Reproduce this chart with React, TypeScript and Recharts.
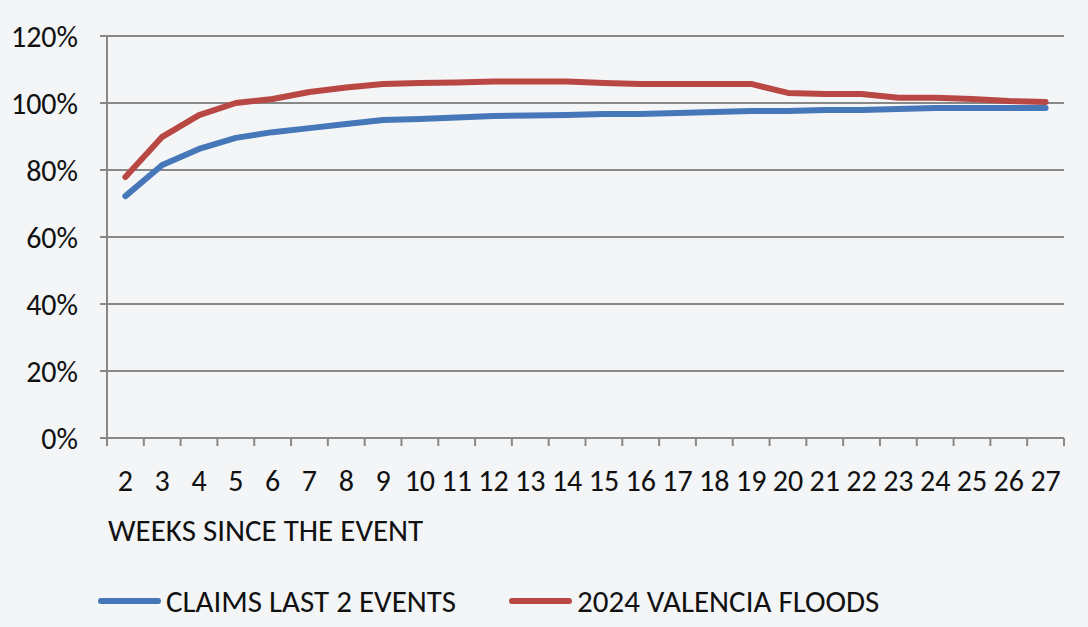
import React from 'react';
import { LineChart, Line, XAxis, YAxis, CartesianGrid } from 'recharts';

const weeks = ['2', '3', '4', '5', '6', '7', '8', '9', '10', '11', '12', '13', '14', '15', '16', '17', '18', '19', '20', '21', '22', '23', '24', '25', '26', '27'];

const claimsLast2 = [0.722, 0.815, 0.863, 0.896, 0.913, 0.925, 0.937, 0.949, 0.952, 0.957, 0.961, 0.963, 0.964, 0.967, 0.967, 0.970, 0.973, 0.976, 0.976, 0.979, 0.979, 0.982, 0.985, 0.985, 0.985, 0.985];

const valenciaFloods = [0.779, 0.899, 0.964, 1.0, 1.012, 1.033, 1.046, 1.057, 1.06, 1.061, 1.064, 1.064, 1.064, 1.06, 1.057, 1.057, 1.057, 1.057, 1.03, 1.027, 1.027, 1.016, 1.016, 1.012, 1.006, 1.003];

const yTicks = [0, 0.2, 0.4, 0.6, 0.8, 1.0, 1.2];

const data = weeks.map((w, i) => ({ week: w, claims: claimsLast2[i], valencia: valenciaFloods[i] }));

const FONT = "Carlito, 'Liberation Sans Narrow', sans-serif";
const BLUE = '#4677b8';
const RED = '#b94744';
const GRID = '#888888';

const W = 1088;
const H = 627;
const M = { top: 36, right: 24, left: 7, bottom: 129 };
const Y_W = 100;
const STEP = (W - M.left - Y_W - M.right) / weeks.length;

function WeekTick(props: any) {
  const { x, y, payload, index } = props;
  const left = x - STEP / 2;
  return (
    <g>
      <line x1={left} y1={y} x2={left} y2={y + 8} stroke={GRID} strokeWidth={2} />
      {index === weeks.length - 1 && (
        <line x1={x + STEP / 2} y1={y} x2={x + STEP / 2} y2={y + 8} stroke={GRID} strokeWidth={2} />
      )}
      <text x={x} y={y + 42} textAnchor="middle" dominantBaseline="central" fill="#111" fontSize={30} fontFamily={FONT}>
        {payload.value}
      </text>
    </g>
  );
}

export default function App() {
  return (
    <div style={{ position: 'absolute', left: 0, top: 0, width: W, height: H, background: '#f3f5f7', fontFamily: FONT }}>
      <LineChart width={W} height={H} data={data} margin={M}>
        <CartesianGrid horizontal vertical={false} stroke={GRID} strokeWidth={2} />
        <XAxis
          dataKey="week"
          scale="band"
          interval={0}
          tickSize={0}
          tickMargin={0}
          tickLine={false}
          axisLine={{ stroke: GRID, strokeWidth: 2 }}
          tick={<WeekTick />}
          height={60}
        />
        <YAxis
          width={Y_W}
          domain={[0, 1.2]}
          ticks={yTicks}
          interval={0}
          tickSize={7}
          tickMargin={22}
          tickLine={{ stroke: GRID, strokeWidth: 2 }}
          axisLine={{ stroke: GRID, strokeWidth: 2 }}
          tickFormatter={(v: number) => `${Math.round(v * 100)}%`}
          tick={{ fill: '#111', fontSize: 30, fontFamily: FONT }}
        />
        <Line type="linear" dataKey="claims" stroke={BLUE} strokeWidth={6} strokeLinecap="round" strokeLinejoin="round" dot={false} isAnimationActive={false} />
        <Line type="linear" dataKey="valencia" stroke={RED} strokeWidth={6} strokeLinecap="round" strokeLinejoin="round" dot={false} isAnimationActive={false} />
      </LineChart>
      <div style={{ position: 'absolute', left: 108, top: 512, fontSize: 31, color: '#111', lineHeight: '36px', whiteSpace: 'nowrap' }}>
        WEEKS SINCE THE EVENT
      </div>
      <div style={{ position: 'absolute', left: 98, top: 583, height: 36, display: 'flex', alignItems: 'center', fontSize: 31, color: '#111', whiteSpace: 'nowrap' }}>
        <span style={{ display: 'inline-block', width: 63, height: 6, borderRadius: 3, background: BLUE, marginRight: 5 }} />
        <span>CLAIMS LAST 2 EVENTS</span>
      </div>
      <div style={{ position: 'absolute', left: 509, top: 583, height: 36, display: 'flex', alignItems: 'center', fontSize: 31, color: '#111', whiteSpace: 'nowrap' }}>
        <span style={{ display: 'inline-block', width: 63, height: 6, borderRadius: 3, background: RED, marginRight: 5 }} />
        <span>2024 VALENCIA FLOODS</span>
      </div>
    </div>
  );
}
